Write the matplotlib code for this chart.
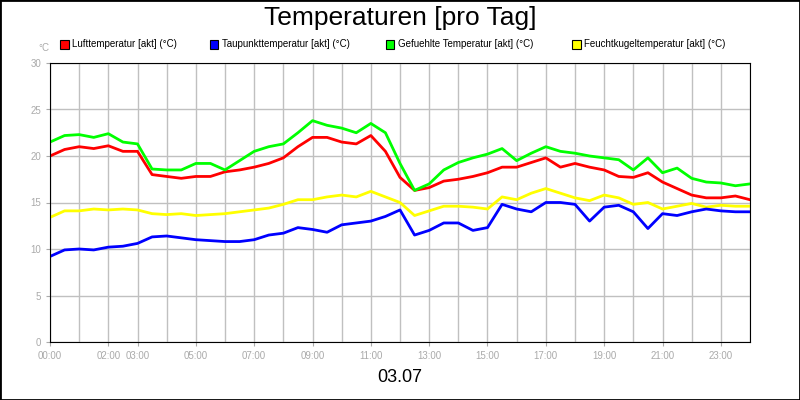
import numpy as np
import matplotlib.pyplot as plt
from matplotlib.patches import Rectangle

plt.rcParams['font.family'] = ['Liberation Sans', 'DejaVu Sans']

hours = np.arange(0, 24.01, 0.5)

luft = [20.0, 20.7, 21.0, 20.8, 21.1, 20.5, 20.5, 18.0, 17.8, 17.6, 17.8, 17.8, 18.3, 18.5, 18.8, 19.2,
        19.8, 21.0, 22.0, 22.0, 21.5, 21.3, 22.2, 20.5, 17.7, 16.3, 16.6, 17.3, 17.5, 17.8, 18.2, 18.8,
        18.8, 19.3, 19.8, 18.8, 19.2, 18.8, 18.5, 17.8, 17.7, 18.2, 17.2, 16.5, 15.8, 15.5, 15.5, 15.7, 15.3]
taupunkt = [9.2, 9.9, 10.0, 9.9, 10.2, 10.3, 10.6, 11.3, 11.4, 11.2, 11.0, 10.9, 10.8, 10.8, 11.0, 11.5,
            11.7, 12.3, 12.1, 11.8, 12.6, 12.8, 13.0, 13.5, 14.2, 11.5, 12.0, 12.8, 12.8, 12.0, 12.3, 14.8,
            14.3, 14.0, 15.0, 15.0, 14.8, 13.0, 14.5, 14.7, 14.0, 12.2, 13.8, 13.6, 14.0, 14.3, 14.1, 14.0, 14.0]
gefuehlt = [21.5, 22.2, 22.3, 22.0, 22.4, 21.5, 21.3, 18.6, 18.5, 18.5, 19.2, 19.2, 18.5, 19.5, 20.5, 21.0,
            21.3, 22.5, 23.8, 23.3, 23.0, 22.5, 23.5, 22.5, 19.2, 16.3, 17.0, 18.5, 19.3, 19.8, 20.2, 20.8,
            19.5, 20.3, 21.0, 20.5, 20.3, 20.0, 19.8, 19.6, 18.5, 19.8, 18.2, 18.7, 17.6, 17.2, 17.1, 16.8, 17.0]
feucht = [13.4, 14.1, 14.1, 14.3, 14.2, 14.3, 14.2, 13.8, 13.7, 13.8, 13.6, 13.7, 13.8, 14.0, 14.2, 14.4,
          14.8, 15.3, 15.3, 15.6, 15.8, 15.6, 16.2, 15.6, 15.0, 13.6, 14.1, 14.6, 14.6, 14.5, 14.3, 15.6,
          15.3, 16.0, 16.5, 16.0, 15.5, 15.2, 15.8, 15.5, 14.8, 15.0, 14.3, 14.6, 14.9, 14.5, 14.7, 14.6, 14.6]

names = ['Lufttemperatur [akt] (°C)', 'Taupunkttemperatur [akt] (°C)',
         'Gefuehlte Temperatur [akt] (°C)', 'Feuchtkugeltemperatur [akt] (°C)']
colors = ['#ff0000', '#0000ff', '#00ff00', '#ffff00']
tick_hours = [0, 2, 3, 5, 7, 9, 11, 13, 15, 17, 19, 21, 23]
tick_labels = ['%02d:00' % h for h in tick_hours]

fig = plt.figure(figsize=(8, 4), dpi=100)
fig.patches.append(Rectangle((0, 0), 1, 1, transform=fig.transFigure, fill=False,
                             edgecolor='black', linewidth=2))
ax = fig.add_axes([0.0625, 0.145, 0.875, 0.6975])

# zeichnen: gelb zuerst, dann blau, rot, gruen
for series, c in [(feucht, colors[3]), (taupunkt, colors[1]), (luft, colors[0]), (gefuehlt, colors[2])]:
    ax.plot(hours, series, color=c, linewidth=2)

ax.set_xlim(0, 24)
ax.set_ylim(0, 30)
ax.set_yticks(range(0, 31, 5))
ax.set_xticks(range(25), minor=True)
ax.set_xticks(tick_hours)
ax.set_xticklabels(tick_labels)
ax.grid(True, which='both', color='#c0c0c0', linewidth=1)
ax.set_axisbelow(True)
ax.tick_params(colors='#aaaaaa', labelsize=7, length=3, which='both')
ax.tick_params(axis='x', which='minor', length=0)
for s in ax.spines.values():
    s.set_color('black')

fig.text(0.5, 0.955, 'Temperaturen [pro Tag]', ha='center', va='center', fontsize=19)
fig.text(0.5, 0.055, '03.07', ha='center', va='center', fontsize=13)
fig.text(0.048, 0.88, '°C', ha='left', va='center', fontsize=7, color='#aaaaaa')

# Legende
xs = [0.075, 0.262, 0.482, 0.715]
for xl, name, c in zip(xs, names, colors):
    fig.patches.append(Rectangle((xl, 0.878), 0.011, 0.022, transform=fig.transFigure,
                                 facecolor=c, edgecolor='black', linewidth=0.8))
    fig.text(xl + 0.015, 0.889, name, ha='left', va='center', fontsize=7)

fig.savefig('out.png', dpi=100)
